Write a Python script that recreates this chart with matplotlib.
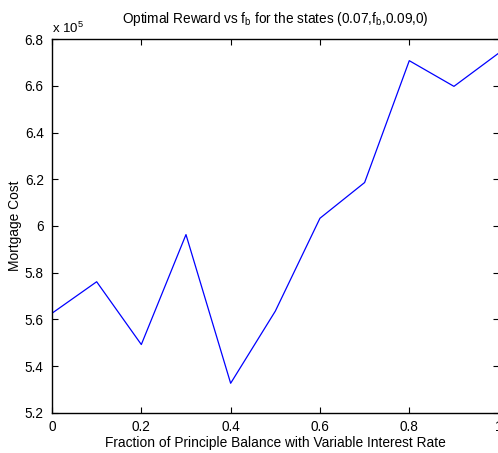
import matplotlib
matplotlib.use("Agg")
import matplotlib.pyplot as plt
from matplotlib.ticker import FuncFormatter, MultipleLocator

plt.rcParams['font.family'] = ['Liberation Sans', 'DejaVu Sans']
plt.rcParams['mathtext.fontset'] = 'custom'
plt.rcParams['mathtext.rm'] = 'Liberation Sans'

fraction = [0.0, 0.1, 0.2, 0.3, 0.4, 0.5, 0.6, 0.7, 0.8, 0.9, 1.0]
cost = [5.626e5, 5.761e5, 5.492e5, 5.963e5, 5.326e5, 5.635e5,
        6.033e5, 6.186e5, 6.708e5, 6.598e5, 6.74e5]

fig = plt.figure(figsize=(4.98, 4.53), dpi=100)
ax = fig.add_axes([52/498, 1 - 412.7/453, 446.6/498, (412.7 - 39.2)/453])
ax.plot(fraction, cost, color=(0, 0, 1), lw=0.9)

ax.set_xlim(0, 1)
ax.set_ylim(5.2e5, 6.8e5)
ax.xaxis.set_major_locator(MultipleLocator(0.2))
ax.yaxis.set_major_locator(MultipleLocator(0.2e5))
ax.xaxis.set_major_formatter(FuncFormatter(lambda v, p: '%g' % round(v, 6)))
ax.yaxis.set_major_formatter(FuncFormatter(lambda v, p: '%g' % round(v / 1e5, 6)))
ax.tick_params(direction='in', top=True, right=True, length=4, width=0.8,
               labelsize=9.8)
ax.tick_params(axis='x', pad=5)
ax.tick_params(axis='y', pad=6)
for s in ax.spines.values():
    s.set_linewidth(1.0)

ax.set_xlabel('Fraction of Principle Balance with Variable Interest Rate', fontsize=9.9, labelpad=2)
ax.set_ylabel('Mortgage Cost', fontsize=9.9, labelpad=2)
ax.set_title(r'Optimal Reward vs f$_\mathregular{b}$ for the states (0.07,f$_\mathregular{b}$,0.09,0)',
             fontsize=9.8, pad=12)
ax.text(0.0, 1.008, r'x 10$^\mathregular{5}$', transform=ax.transAxes,
        fontsize=9.5, ha='left', va='bottom')

fig.savefig('out.png', dpi=100)
